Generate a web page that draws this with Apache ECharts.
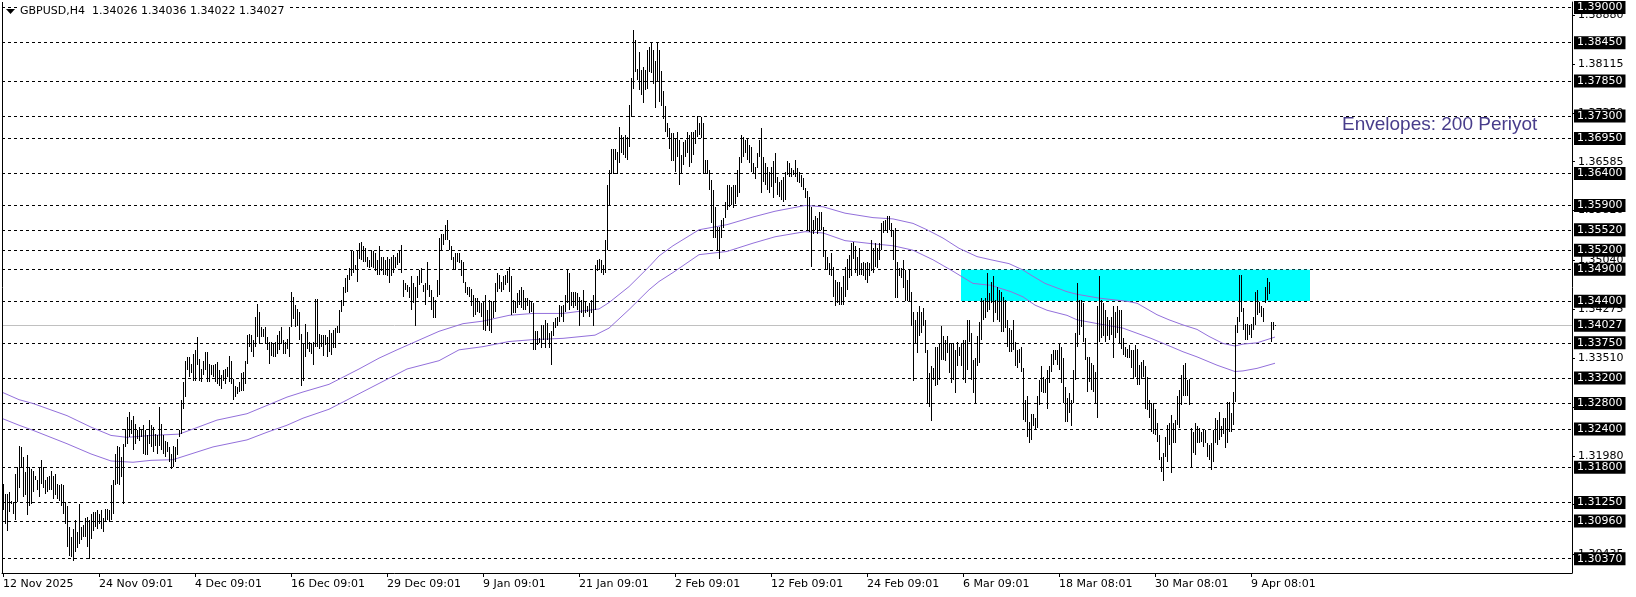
<!DOCTYPE html>
<html>
<head>
<meta charset="utf-8">
<script src="https://cdn.jsdelivr.net/npm/echarts@6/dist/echarts.min.js"></script>
<style>
html,body{margin:0;padding:0;background:#fff;}
#chart{width:1636px;height:597px;}
</style>
</head>
<body>
<div id="chart"></div>
<script>
// ---- Data (GBPUSD H4, high/low of each bar) ----
const highs = [
1.3154,1.3139,1.3139,1.3141,1.3128,1.3126,1.3170,1.3180,1.3214,1.3212,
1.3196,1.3173,1.3199,1.3180,1.3178,1.3175,1.3167,1.3160,1.3180,1.3191,
1.3180,1.3160,1.3165,1.3167,1.3175,1.3167,1.3170,1.3154,1.3152,1.3154,
1.3152,1.3126,1.3120,1.3087,1.3071,1.3084,1.3097,1.3079,1.3123,1.3087,
1.3089,1.3100,1.3102,1.3097,1.3107,1.3110,1.3110,1.3113,1.3107,1.3113,
1.3100,1.3115,1.3115,1.3113,1.3152,1.3160,1.3201,1.3214,1.3212,1.3196,
1.3217,1.3240,1.3259,1.3267,1.3254,1.3261,1.3248,1.3238,1.3243,1.3240,
1.3246,1.3238,1.3230,1.3254,1.3246,1.3243,1.3233,1.3230,1.3274,1.3248,
1.3230,1.3222,1.3220,1.3212,1.3201,1.3214,1.3212,1.3225,1.3238,1.3285,
1.3314,1.3347,1.3353,1.3353,1.3342,1.3358,1.3363,1.3384,1.3350,1.3334,
1.3347,1.3360,1.3360,1.3342,1.3340,1.3340,1.3342,1.3345,1.3332,1.3324,
1.3332,1.3334,1.3337,1.3355,1.3347,1.3319,1.3308,1.3306,1.3314,1.3327,
1.3329,1.3347,1.3387,1.3389,1.3387,1.3379,1.3415,1.3436,1.3423,1.3400,
1.3397,1.3400,1.3384,1.3376,1.3376,1.3374,1.3376,1.3387,1.3394,1.3400,
1.3379,1.3376,1.3381,1.3400,1.3454,1.3447,1.3434,1.3428,1.3423,1.3389,
1.3374,1.3405,1.3392,1.3376,1.3374,1.3376,1.3444,1.3444,1.3389,1.3387,
1.3387,1.3387,1.3384,1.3395,1.3390,1.3395,1.3398,1.3401,1.3427,1.3442,
1.3463,1.3476,1.3481,1.3492,1.3518,1.3518,1.3497,1.3520,1.3531,1.3533,
1.3526,1.3523,1.3510,1.3505,1.3520,1.3518,1.3515,1.3505,1.3526,1.3510,
1.3510,1.3505,1.3510,1.3507,1.3510,1.3513,1.3510,1.3515,1.3518,1.3528,
1.3474,1.3468,1.3466,1.3463,1.3479,1.3468,1.3463,1.3479,1.3489,1.3492,
1.3466,1.3468,1.3502,1.3466,1.3458,1.3447,1.3442,1.3474,1.3539,1.3546,
1.3546,1.3560,1.3567,1.3536,1.3526,1.3510,1.3515,1.3515,1.3515,1.3505,
1.3502,1.3471,1.3463,1.3463,1.3460,1.3450,1.3445,1.3445,1.3440,1.3437,
1.3440,1.3450,1.3427,1.3442,1.3440,1.3440,1.3468,1.3484,1.3481,1.3471,
1.3479,1.3481,1.3487,1.3494,1.3479,1.3442,1.3440,1.3453,1.3458,1.3463,
1.3458,1.3445,1.3445,1.3442,1.3440,1.3437,1.3393,1.3393,1.3382,1.3403,
1.3403,1.3411,1.3406,1.3390,1.3393,1.3408,1.3414,1.3416,1.3434,1.3432,
1.3434,1.3450,1.3489,1.3484,1.3455,1.3455,1.3455,1.3453,1.3447,1.3442,
1.3458,1.3440,1.3432,1.3437,1.3442,1.3450,1.3497,1.3505,1.3507,1.3505,
1.3497,1.3536,1.3622,1.3645,1.3679,1.3679,1.3679,1.3674,1.3713,1.3700,
1.3698,1.3700,1.3698,1.3747,1.3789,1.3864,1.3849,1.3804,1.3830,1.3802,
1.3807,1.3802,1.3833,1.3838,1.3846,1.3833,1.3817,1.3846,1.3833,1.3800,
1.3770,1.3745,1.3719,1.3711,1.3703,1.3703,1.3695,1.3705,1.3692,1.3669,
1.3690,1.3692,1.3705,1.3700,1.3705,1.3705,1.3708,1.3730,1.3719,1.3728,
1.3719,1.3661,1.3661,1.3646,1.3630,1.3614,1.3588,1.3557,1.3557,1.3567,
1.3570,1.3596,1.3622,1.3622,1.3619,1.3622,1.3622,1.3646,1.3666,1.3700,
1.3698,1.3692,1.3695,1.3685,1.3682,1.3656,1.3651,1.3672,1.3692,1.3711,
1.3666,1.3656,1.3651,1.3643,1.3651,1.3659,1.3672,1.3635,1.3627,1.3630,
1.3635,1.3643,1.3659,1.3656,1.3648,1.3646,1.3661,1.3648,1.3643,1.3638,
1.3633,1.3617,1.3612,1.3604,1.3588,1.3567,1.3573,1.3570,1.3580,1.3580,
1.3557,1.3518,1.3510,1.3500,1.3515,1.3494,1.3474,1.3471,1.3471,1.3463,
1.3479,1.3494,1.3507,1.3513,1.3531,1.3533,1.3526,1.3510,1.3523,1.3500,
1.3502,1.3500,1.3502,1.3500,1.3536,1.3523,1.3531,1.3523,1.3531,1.3562,
1.3565,1.3567,1.3573,1.3573,1.3562,1.3552,1.3554,1.3502,1.3492,1.3492,
1.3505,1.3489,1.3474,1.3489,1.3455,1.3424,1.3411,1.3424,1.3432,1.3424,
1.3429,1.3411,1.3364,1.3328,1.3338,1.3335,1.3369,1.3369,1.3374,1.3401,
1.3385,1.3380,1.3385,1.3374,1.3374,1.3374,1.3364,1.3377,1.3369,1.3374,
1.3380,1.3380,1.3411,1.3411,1.3390,1.3348,1.3351,1.3385,1.3408,1.3445,
1.3442,1.3445,1.3484,1.3453,1.3471,1.3479,1.3442,1.3463,1.3458,1.3455,
1.3447,1.3442,1.3411,1.3398,1.3395,1.3411,1.3377,1.3364,1.3366,1.3369,
1.3335,1.3285,1.3291,1.3251,1.3264,1.3264,1.3257,1.3291,1.3317,1.3338,
1.3322,1.3319,1.3332,1.3338,1.3358,1.3364,1.3364,1.3364,1.3374,1.3369,
1.3351,1.3306,1.3288,1.3296,1.3285,1.3332,1.3390,1.3468,1.3442,1.3442,
1.3437,1.3382,1.3353,1.3353,1.3343,1.3340,1.3330,1.3432,1.3479,1.3442,
1.3437,1.3426,1.3416,1.3411,1.3416,1.3432,1.3424,1.3432,1.3426,1.3426,
1.3382,1.3369,1.3366,1.3372,1.3364,1.3364,1.3372,1.3366,1.3340,1.3345,
1.3348,1.3338,1.3322,1.3285,1.3280,1.3280,1.3272,1.3249,1.3231,1.3197,
1.3202,1.3228,1.3246,1.3249,1.3262,1.3249,1.3254,1.3291,1.3301,1.3325,
1.3340,1.3343,1.3317,1.3319,1.3241,1.3236,1.3249,1.3244,1.3241,1.3236,
1.3238,1.3238,1.3218,1.3215,1.3218,1.3238,1.3257,1.3254,1.3267,1.3244,
1.3257,1.3257,1.3283,1.3283,1.3265,1.3298,1.3403,1.3416,1.3481,1.3481,
1.3429,1.3405,1.3405,1.3403,1.3405,1.3416,1.3455,1.3458,1.3439,1.3432,
1.3429,1.3463,1.3476,1.3471,1.3408,1.3408,1.34036
];
const lows = [
1.3113,1.3092,1.3081,1.3110,1.3123,1.3107,1.3097,1.3126,1.3147,1.3180,
1.3134,1.3136,1.3105,1.3120,1.3123,1.3141,1.3160,1.3144,1.3134,1.3154,
1.3147,1.3139,1.3141,1.3144,1.3144,1.3131,1.3136,1.3131,1.3128,1.3120,
1.3107,1.3092,1.3055,1.3042,1.3040,1.3034,1.3047,1.3053,1.3060,1.3066,
1.3071,1.3071,1.3055,1.3037,1.3068,1.3081,1.3087,1.3084,1.3092,1.3084,
1.3079,1.3094,1.3097,1.3094,1.3097,1.3107,1.3152,1.3154,1.3152,1.3165,
1.3123,1.3212,1.3217,1.3227,1.3233,1.3207,1.3217,1.3225,1.3222,1.3227,
1.3201,1.3199,1.3199,1.3217,1.3212,1.3204,1.3214,1.3201,1.3214,1.3207,
1.3201,1.3196,1.3204,1.3188,1.3178,1.3180,1.3188,1.3199,1.3227,1.3233,
1.3272,1.3290,1.3332,1.3321,1.3327,1.3316,1.3316,1.3340,1.3316,1.3314,
1.3324,1.3332,1.3314,1.3314,1.3324,1.3321,1.3314,1.3311,1.3308,1.3303,
1.3316,1.3311,1.3321,1.3314,1.3311,1.3285,1.3290,1.3295,1.3298,1.3300,
1.3300,1.3311,1.3342,1.3368,1.3360,1.3353,1.3368,1.3384,1.3373,1.3384,
1.3384,1.3373,1.3363,1.3342,1.3355,1.3353,1.3353,1.3358,1.3363,1.3373,
1.3358,1.3358,1.3366,1.3353,1.3400,1.3413,1.3400,1.3402,1.3379,1.3308,
1.3316,1.3353,1.3366,1.3360,1.3358,1.3340,1.3368,1.3368,1.3366,1.3368,
1.3355,1.3371,1.3353,1.3360,1.3356,1.3367,1.3367,1.3390,1.3390,1.3424,
1.3432,1.3453,1.3455,1.3474,1.3479,1.3484,1.3489,1.3471,1.3507,1.3505,
1.3502,1.3502,1.3494,1.3492,1.3494,1.3492,1.3487,1.3481,1.3481,1.3487,
1.3481,1.3481,1.3479,1.3468,1.3479,1.3484,1.3492,1.3497,1.3500,1.3484,
1.3447,1.3458,1.3455,1.3445,1.3427,1.3437,1.3401,1.3445,1.3466,1.3468,
1.3455,1.3434,1.3458,1.3447,1.3427,1.3414,1.3414,1.3447,1.3450,1.3520,
1.3528,1.3536,1.3536,1.3520,1.3505,1.3489,1.3489,1.3502,1.3500,1.3479,
1.3468,1.3453,1.3450,1.3447,1.3432,1.3416,1.3419,1.3424,1.3421,1.3416,
1.3395,1.3393,1.3401,1.3393,1.3390,1.3414,1.3424,1.3455,1.3460,1.3455,
1.3458,1.3466,1.3468,1.3455,1.3419,1.3421,1.3421,1.3429,1.3434,1.3429,
1.3427,1.3427,1.3432,1.3421,1.3424,1.3364,1.3364,1.3372,1.3375,1.3367,
1.3380,1.3367,1.3380,1.3367,1.3341,1.3385,1.3398,1.3401,1.3408,1.3416,
1.3408,1.3424,1.3437,1.3427,1.3432,1.3429,1.3432,1.3427,1.3401,1.3421,
1.3416,1.3421,1.3424,1.3416,1.3421,1.3401,1.3427,1.3487,1.3489,1.3484,
1.3481,1.3484,1.3520,1.3591,1.3640,1.3640,1.3661,1.3640,1.3656,1.3672,
1.3669,1.3664,1.3661,1.3682,1.3729,1.3773,1.3799,1.3786,1.3771,1.3763,
1.3750,1.3771,1.3773,1.3799,1.3797,1.3781,1.3742,1.3784,1.3752,1.3745,
1.3725,1.3705,1.3698,1.3679,1.3659,1.3659,1.3643,1.3666,1.3622,1.3640,
1.3653,1.3666,1.3672,1.3651,1.3656,1.3669,1.3687,1.3698,1.3700,1.3695,
1.3640,1.3640,1.3640,1.3614,1.3562,1.3539,1.3539,1.3518,1.3507,1.3539,
1.3554,1.3570,1.3583,1.3588,1.3591,1.3586,1.3593,1.3604,1.3609,1.3656,
1.3666,1.3672,1.3661,1.3656,1.3643,1.3640,1.3632,1.3648,1.3666,1.3609,
1.3627,1.3622,1.3614,1.3609,1.3619,1.3601,1.3625,1.3606,1.3604,1.3599,
1.3596,1.3599,1.3638,1.3635,1.3635,1.3638,1.3635,1.3627,1.3625,1.3619,
1.3614,1.3601,1.3552,1.3549,1.3494,1.3546,1.3552,1.3546,1.3552,1.3552,
1.3510,1.3489,1.3489,1.3481,1.3479,1.3447,1.3432,1.3437,1.3434,1.3434,
1.3434,1.3447,1.3458,1.3476,1.3479,1.3507,1.3484,1.3479,1.3481,1.3481,
1.3479,1.3474,1.3468,1.3479,1.3487,1.3484,1.3494,1.3492,1.3505,1.3520,
1.3547,1.3552,1.3547,1.3552,1.3541,1.3505,1.3445,1.3445,1.3479,1.3476,
1.3461,1.3440,1.3440,1.3440,1.3401,1.3315,1.3374,1.3359,1.3385,1.3390,
1.3401,1.3359,1.3281,1.3275,1.3252,1.3317,1.3307,1.3309,1.3317,1.3348,
1.3348,1.3346,1.3359,1.3328,1.3312,1.3317,1.3296,1.3338,1.3354,1.3338,
1.3317,1.3312,1.3333,1.3377,1.3317,1.3296,1.3281,1.3338,1.3343,1.3380,
1.3411,1.3414,1.3424,1.3427,1.3437,1.3408,1.3421,1.3411,1.3408,1.3392,
1.3392,1.3398,1.3369,1.3361,1.3361,1.3364,1.3338,1.3335,1.3343,1.3330,
1.3254,1.3251,1.3228,1.3218,1.3223,1.3244,1.3238,1.3241,1.3278,1.3298,
1.3296,1.3296,1.3272,1.3312,1.3330,1.3340,1.3348,1.3340,1.3332,1.3312,
1.3280,1.3251,1.3251,1.3265,1.3244,1.3280,1.3317,1.3369,1.3387,1.3400,
1.3377,1.3348,1.3298,1.3314,1.3301,1.3298,1.3280,1.3257,1.3377,1.3382,
1.3385,1.3377,1.3385,1.3379,1.3387,1.3351,1.3382,1.3390,1.3374,1.3366,
1.3356,1.3353,1.3351,1.3351,1.3335,1.3319,1.3322,1.3309,1.3309,1.3319,
1.3322,1.3272,1.3270,1.3257,1.3236,1.3233,1.3231,1.3220,1.3192,1.3173,
1.3158,1.3197,1.3189,1.3215,1.3171,1.3218,1.3218,1.3246,1.3241,1.3278,
1.3291,1.3291,1.3291,1.3278,1.3181,1.3202,1.3199,1.3218,1.3218,1.3220,
1.3212,1.3218,1.3197,1.3192,1.3176,1.3189,1.3218,1.3215,1.3223,1.3228,
1.3233,1.3210,1.3218,1.3236,1.3236,1.3246,1.3283,1.3390,1.3408,1.3424,
1.3395,1.3379,1.3379,1.3387,1.3382,1.3395,1.3403,1.3419,1.3421,1.3416,
1.3408,1.3437,1.3442,1.3452,1.3377,1.3395,1.34022
];
// Envelopes (200) upper / lower band: [bar index, price]
const envUpper = [
[0,1.3297],[8,1.3286],[15,1.3280],[32,1.3261],[44,1.3243],[54,1.3230],[62,1.3227],[74,1.3230],[88,1.3232],[95,1.3240],
[107,1.3254],[122,1.3264],[132,1.3277],[142,1.3290],[150,1.3298],[163,1.3310],[178,1.3334],[188,1.3351],[197,1.3364],[210,1.3382],
[218,1.3393],[230,1.3405],[240,1.3409],[253,1.3418],[265,1.3421],[280,1.3421],[290,1.3425],[298,1.3428],[303,1.3438],[313,1.3463],
[323,1.3494],[328,1.3511],[335,1.3527],[348,1.3552],[362,1.3560],[375,1.3572],[386,1.3581],[401,1.3590],[410,1.3588],[421,1.3578],
[435,1.3571],[445,1.3569],[455,1.3562],[462,1.3552],[470,1.3539],[478,1.3523],[487,1.3510],[494,1.3505],[503,1.3499],[510,1.3489],
[514,1.3481],[521,1.3468],[532,1.3455],[537,1.3451],[548,1.3445],[562,1.3440],[567,1.3437],[577,1.3419],[583,1.3411],[590,1.3403],
[597,1.3396],[603,1.3385],[610,1.3374],[616,1.3370],[620,1.3373],[627,1.3375],[636,1.3384]
];
const envLower = [
[0,1.3256],[8,1.3246],[15,1.3238],[32,1.3217],[44,1.3201],[54,1.3190],[65,1.3188],[74,1.3191],[85,1.3192],[92,1.3199],
[105,1.3212],[122,1.3223],[132,1.3235],[142,1.3246],[150,1.3257],[163,1.3271],[202,1.3334],[218,1.3347],[228,1.3364],[240,1.3369],
[253,1.3377],[265,1.3380],[280,1.3382],[296,1.3387],[303,1.3398],[313,1.3427],[323,1.3458],[328,1.3471],[335,1.3485],[348,1.3513],
[362,1.3518],[375,1.3531],[386,1.3541],[401,1.3549],[410,1.3547],[421,1.3535],[435,1.3530],[445,1.3527],[455,1.3520],[465,1.3505],
[475,1.3487],[485,1.3468],[494,1.3465],[504,1.3455],[510,1.3447],[516,1.3434],[522,1.3426],[532,1.3418],[537,1.3411],[549,1.3404],
[560,1.3398],[567,1.3390],[574,1.3382],[584,1.3369],[590,1.3361],[597,1.3353],[607,1.3340],[616,1.3330],[620,1.3331],[627,1.3335],
[636,1.3343]
];
// Horizontal levels (dashed lines, boxed labels)
const levels = [1.39000,1.38450,1.37850,1.37300,1.36950,1.36400,1.35900,1.35520,1.35200,1.34900,
                1.34400,1.33750,1.33200,1.32800,1.32400,1.31800,1.31250,1.30960,1.30370];
const currentPrice = 1.34027;
// Regular price-scale tick labels
const priceTicks = [1.38880,1.38115,1.37350,1.36585,1.35820,1.35040,1.34275,1.33510,1.32745,1.31980,1.31215,1.30435];
// Time-scale labels (every 48 bars)
const timeTickIdx = [0,48,96,144,192,240,288,336,384,432,480,528,576,624];
const timeLabels = ['12 Nov 2025','24 Nov 09:01','4 Dec 09:01','16 Dec 09:01','29 Dec 09:01','9 Jan 09:01',
  '21 Jan 09:01','2 Feb 09:01','12 Feb 09:01','24 Feb 09:01','6 Mar 09:01','18 Mar 08:01','30 Mar 08:01','9 Apr 08:01'];
// Zone rectangle: [start bar, end bar, top price, bottom price]
const zone = [479, 653.5, 1.34895, 1.34405];
const headerText = 'GBPUSD,H4  1.34026 1.34036 1.34022 1.34027';
const envText = 'Envelopes: 200 Periyot';

// ---- Chart ----
const Y_MIN = 1.301461, Y_MAX = 1.390861;
const FONT = 'DejaVu Sans';
const chart = echarts.init(document.getElementById('chart'), null, {renderer:'canvas'});
const barData = highs.map((h, i) => [i, lows[i], h]);

function yBase(extra) {
  return Object.assign({
    type:'value', min:Y_MIN, max:Y_MAX, position:'right', alignTicks:false,
    axisLine:{show:false, onZero:false}, axisTick:{show:false}, minorTick:{show:false},
    axisLabel:{show:false}, splitLine:{show:false}
  }, extra);
}

const option = {
  animation:false,
  backgroundColor:'#fff',
  grid:{left:2, right:64, top:2, bottom:24, containLabel:false},
  xAxis:{
    type:'value', min:-0.5, max:784.5,
    axisLine:{onZero:false, lineStyle:{color:'#000', width:1}},
    axisTick:{show:true, customValues:timeTickIdx, length:4, lineStyle:{color:'#000'}},
    axisLabel:{customValues:timeTickIdx, align:'left', margin:6, color:'#000',
      fontFamily:FONT, fontSize:11,
      formatter:(v) => timeLabels[timeTickIdx.indexOf(Math.round(v))] || ''},
    splitLine:{show:false}
  },
  yAxis:[
    yBase({ // regular price labels + right frame
      axisLine:{show:true, onZero:false, lineStyle:{color:'#000', width:1}},
      axisTick:{show:true, customValues:priceTicks, length:3, lineStyle:{color:'#000'}},
      axisLabel:{show:true, customValues:priceTicks, margin:6, color:'#000', fontFamily:FONT, fontSize:11,
        formatter:(v) => v.toFixed(5)}
    }),
    yBase({ // dashed horizontal levels
      axisTick:{show:false, customValues:levels},
      splitLine:{show:true, lineStyle:{color:'#000', width:1, type:[3,3]}}
    }),
    yBase({ // current price line
      axisTick:{show:false, customValues:[currentPrice]},
      splitLine:{show:true, lineStyle:{color:'#C0C0C0', width:1}}
    }),
    yBase({ // boxed labels
      z:10,
      axisLabel:{show:true, customValues:levels.concat([currentPrice]), margin:2,
        color:'#fff', backgroundColor:'#000', padding:[1,3,1,3], fontFamily:FONT, fontSize:11,
        formatter:(v) => v.toFixed(5)}
    })
  ],
  series:[
    {
      type:'line', name:'zone', yAxisIndex:0, data:[], z:1, silent:true,
      markArea:{silent:true, itemStyle:{color:'#00FFFF', opacity:1},
        data:[[{xAxis:zone[0], yAxis:zone[2]}, {xAxis:zone[1], yAxis:zone[3]}]]}
    },
    {
      type:'line', name:'envUpper', yAxisIndex:0, data:envUpper, showSymbol:false, symbol:'none', z:2,
      lineStyle:{color:'#9370DB', width:1}, silent:true
    },
    {
      type:'line', name:'envLower', yAxisIndex:0, data:envLower, showSymbol:false, symbol:'none', z:2,
      lineStyle:{color:'#9370DB', width:1}, silent:true
    },
    {
      type:'custom', name:'bars', yAxisIndex:0, z:3, silent:true,
      encode:{x:0, y:[1,2]},
      data:barData,
      renderItem:(params, api) => {
        const i = api.value(0);
        const top = api.coord([i, api.value(2)]);
        const bot = api.coord([i, api.value(1)]);
        const x = Math.round(top[0]) + 0.5;
        let y1 = Math.round(top[1]), y2 = Math.round(bot[1]);
        if (y2 - y1 < 1) y2 = y1 + 1;
        return {type:'line', shape:{x1:x, y1:y1, x2:x, y2:y2}, style:{stroke:'#000', lineWidth:1}};
      }
    }
  ],
  graphic:[
    {type:'line', z:20, silent:true, shape:{x1:2.5, y1:2, x2:2.5, y2:573}, style:{stroke:'#000', lineWidth:1}},
    {type:'text', left:17, top:5, z:20,
      style:{text:headerText, font:'11px "DejaVu Sans"', fill:'#000', backgroundColor:'#fff', padding:[1,3,1,3]}},
    {type:'polygon', z:21, shape:{points:[[6,9],[15,9],[10.5,14]]}, style:{fill:'#000'}},
    {type:'text', left:1342, top:115, z:20,
      style:{text:envText, font:'19px "Liberation Sans"', fill:'#483D8B'}}
  ]
};
chart.setOption(option);
</script>
</body>
</html>
